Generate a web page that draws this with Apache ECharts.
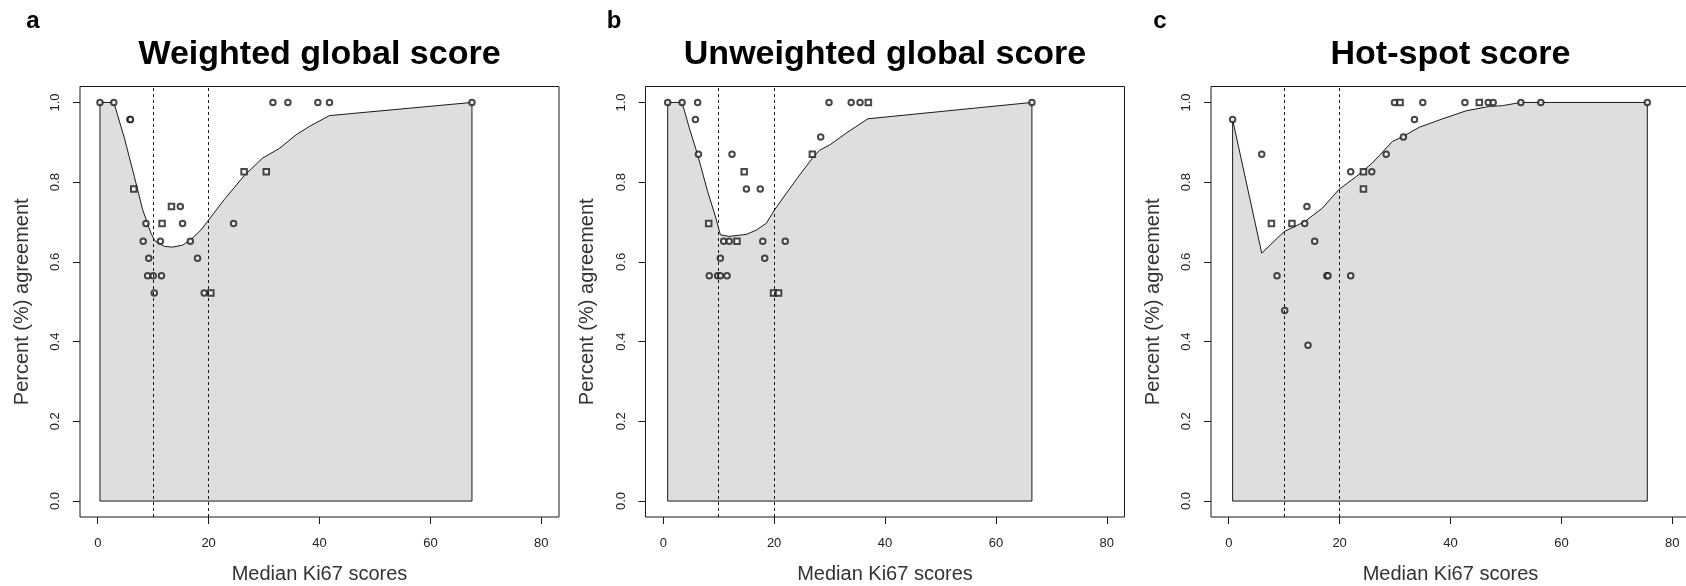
<!DOCTYPE html>
<html>
<head>
<meta charset="utf-8">
<title>Ki67 agreement</title>
<script src="https://cdn.jsdelivr.net/npm/echarts@6/dist/echarts.min.js"></script>
<style>
  html, body { margin: 0; padding: 0; background: #fff; }
  #chart { width: 1686px; height: 586px; }
</style>
</head>
<body>
<div id="chart"></div>
<script>
// tick labels and cut-offs
const xTicks = [0, 20, 40, 60, 80];
const yTicks = [0, 0.2, 0.4, 0.6, 0.8, 1.0];
const cutoffs = [10, 20];
const panelLetters = ['a', 'b', 'c'];
const panelTitles = ['Weighted global score', 'Unweighted global score', 'Hot-spot score'];

// smoothed agreement curve (closed down to 0 so the grey polygon gets its edges)
const curveA = [[0.4, 0], [0.4, 1.0], [2.9, 1.0], [4.8, 0.911], [6.6, 0.814], [8.1, 0.731], [9.6, 0.672],
  [10.3, 0.653], [12.0, 0.639], [13.5, 0.637], [15.3, 0.642], [16.8, 0.656], [18.6, 0.680], [20.0, 0.705],
  [22.8, 0.756], [26.4, 0.816], [29.7, 0.860], [32.8, 0.885], [35.8, 0.919], [38.2, 0.940], [41.8, 0.967],
  [67.5, 1.0], [67.5, 0], [0.4, 0]];
const curveB = [[0.8, 0], [0.8, 1.0], [3.4, 1.0], [4.7, 0.936], [6.2, 0.869], [8.0, 0.777], [9.5, 0.710],
  [10.3, 0.668], [11.9, 0.664], [15.0, 0.669], [16.8, 0.680], [18.6, 0.697], [20.1, 0.731], [22.2, 0.772],
  [24.6, 0.818], [26.9, 0.860], [28.2, 0.880], [30.0, 0.893], [33.0, 0.923], [36.9, 0.959],
  [66.5, 1.0], [66.5, 0], [0.8, 0]];
const curveC = [[0.7, 0], [0.7, 0.957], [5.95, 0.622], [10.0, 0.676], [13.7, 0.701], [16.9, 0.735],
  [19.9, 0.782], [23.0, 0.814], [25.9, 0.848], [29.5, 0.902], [31.5, 0.915], [34.4, 0.938], [38.6, 0.959],
  [42.8, 0.979], [47.0, 0.990], [49.4, 0.992], [52.7, 1.0], [75.5, 1.0], [75.5, 0], [0.7, 0]];

// observed agreement, two marker groups
const circlesA = [[0.4, 1], [2.9, 1], [5.8, 0.957], [5.9, 0.957], [8.7, 0.696], [8.2, 0.652], [9.2, 0.609],
  [9.0, 0.565], [10.0, 0.565], [11.5, 0.565], [10.2, 0.522], [11.3, 0.652], [14.9, 0.739], [15.3, 0.696],
  [16.7, 0.652], [18.0, 0.609], [19.2, 0.522], [24.5, 0.696], [31.6, 1], [34.3, 1], [39.7, 1], [41.8, 1], [67.5, 1]];
const squaresA = [[6.5, 0.783], [11.6, 0.696], [13.3, 0.739], [20.4, 0.522], [26.4, 0.826], [30.4, 0.826]];

const circlesB = [[0.8, 1], [3.4, 1], [6.2, 1], [5.8, 0.957], [6.35, 0.870], [12.4, 0.870], [15.0, 0.783],
  [17.5, 0.783], [10.9, 0.652], [11.9, 0.652], [17.95, 0.652], [22.0, 0.652], [10.3, 0.609], [18.3, 0.609],
  [8.3, 0.565], [9.8, 0.565], [10.3, 0.565], [11.5, 0.565], [28.4, 0.913], [29.9, 1], [33.9, 1], [35.5, 1], [66.5, 1]];
const squaresB = [[8.2, 0.696], [14.6, 0.826], [13.3, 0.652], [19.9, 0.522], [20.8, 0.522], [26.9, 0.870], [37.0, 1]];

const circlesC = [[0.7, 0.957], [5.95, 0.870], [13.7, 0.696], [14.1, 0.739], [15.5, 0.652], [8.7, 0.565],
  [17.7, 0.565], [17.9, 0.565], [22.0, 0.565], [22.0, 0.826], [25.8, 0.826], [28.4, 0.870], [31.5, 0.913],
  [33.5, 0.957], [29.9, 1], [35.0, 1], [42.6, 1], [46.8, 1], [47.7, 1], [52.7, 1], [56.3, 1], [75.5, 1],
  [10.1, 0.478], [14.3, 0.391]];
const squaresC = [[7.7, 0.696], [11.4, 0.696], [24.3, 0.826], [24.3, 0.783], [30.9, 1], [45.2, 1]];

const curves = [curveA, curveB, curveC];
const circles = [circlesA, circlesB, circlesC];
const squares = [squaresA, squaresB, squaresC];

const FONT = 'Liberation Sans, Arial, sans-serif';
const INK = '#1a1a1a';
const gridLefts = [80, 645.5, 1211];
const gridW = 479;

const chart = echarts.init(document.getElementById('chart'));

const grid = [], xAxis = [], yAxis = [], series = [], title = [];

gridLefts.forEach((left, i) => {
  grid.push({
    left: left, top: 86.5, width: gridW, height: 430.5,
    containLabel: false, outerBoundsMode: 'none',
    show: true, borderColor: INK, borderWidth: 1, backgroundColor: 'transparent'
  });

  // R style axis: 4% padding, ticks only on the round values, sitting on the box edge
  xAxis.push({
    type: 'value', gridIndex: i, min: -3.2, max: 83.2,
    name: 'Median Ki67 scores', nameLocation: 'middle', nameGap: 47,
    nameTextStyle: { fontFamily: FONT, fontSize: 20, color: '#333' },
    axisLine: { show: false, onZero: false },
    axisTick: { show: true, length: 7, customValues: xTicks, lineStyle: { color: INK } },
    axisLabel: { customValues: xTicks, margin: 20, fontFamily: FONT, fontSize: 13, color: '#222' },
    splitLine: { show: false }
  });
  yAxis.push({
    type: 'value', gridIndex: i, min: -0.04, max: 1.04,
    name: 'Percent (%) agreement', nameLocation: 'middle', nameGap: 48, nameRotate: 90,
    nameTextStyle: { fontFamily: FONT, fontSize: 20, color: '#333' },
    axisLine: { show: false, onZero: false },
    axisTick: { show: true, length: 7, customValues: yTicks, lineStyle: { color: INK } },
    axisLabel: {
      customValues: yTicks, rotate: 90, margin: 18, fontFamily: FONT, fontSize: 13, color: '#222',
      formatter: (v) => v.toFixed(1)
    },
    splitLine: { show: false }
  });

  series.push({
    type: 'line', xAxisIndex: i, yAxisIndex: i,
    data: curves[i], symbol: 'none', smooth: false, silent: true,
    lineStyle: { color: INK, width: 1 },
    areaStyle: { color: '#dedede', opacity: 1, origin: 0 },
    markLine: {
      silent: true, symbol: 'none', label: { show: false },
      lineStyle: { color: INK, type: [3, 3], width: 1 },
      data: cutoffs.map((c) => ({ xAxis: c }))
    },
    z: 1
  });
  series.push({
    type: 'scatter', xAxisIndex: i, yAxisIndex: i,
    data: circles[i], symbol: 'emptyCircle', symbolSize: 5.5,
    itemStyle: { color: INK, borderWidth: 1 }, z: 3
  });
  series.push({
    type: 'scatter', xAxisIndex: i, yAxisIndex: i,
    data: squares[i], symbol: 'emptyRect', symbolSize: 5.5,
    itemStyle: { color: INK, borderWidth: 1 }, z: 3
  });

  title.push({
    text: panelTitles[i], left: left + gridW / 2, top: 38, textAlign: 'center', padding: 0,
    textStyle: { fontFamily: FONT, fontSize: 34, fontWeight: 'bold', color: '#000' }
  });
});

[33, 614, 1160].forEach((x, i) => {
  title.push({
    text: panelLetters[i], left: x, top: 9, textAlign: 'center', padding: 0,
    textStyle: { fontFamily: FONT, fontSize: 24, fontWeight: 'bold', color: '#000' }
  });
});

chart.setOption({
  animation: false,
  backgroundColor: '#fff',
  title: title,
  grid: grid,
  xAxis: xAxis,
  yAxis: yAxis,
  series: series
});
</script>
</body>
</html>
